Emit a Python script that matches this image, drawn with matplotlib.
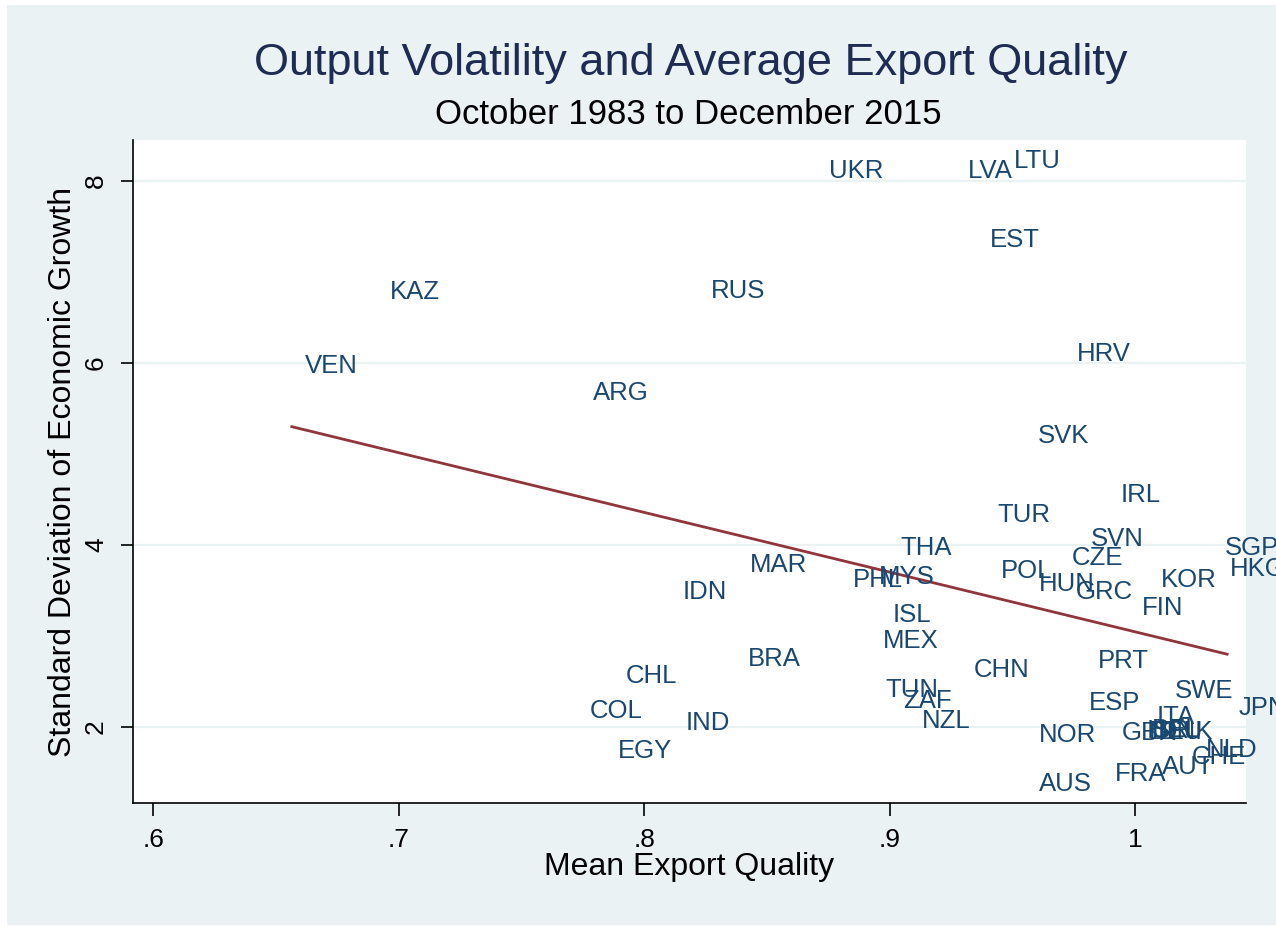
import matplotlib
matplotlib.use("Agg")
import matplotlib.pyplot as plt
from matplotlib.patches import Rectangle

plt.rcParams['font.family'] = ['Liberation Sans', 'DejaVu Sans']

countries = ["VEN", "KAZ", "ARG", "RUS", "UKR", "LVA", "LTU", "EST", "HRV", "SVK",
             "IRL", "TUR", "SVN", "THA", "SGP", "HKG", "CZE", "POL", "MAR", "PHL",
             "MYS", "HUN", "GRC", "KOR", "FIN", "IDN", "ISL", "MEX", "BRA", "PRT",
             "CHL", "CHN", "TUN", "ZAF", "SWE", "JPN", "ESP", "COL", "IND", "NZL",
             "ITA", "NOR", "GBR", "ISR", "DEU", "BEL", "DNK", "EGY", "AUS", "FRA",
             "AUT", "CHE", "NLD"]
export_quality = [0.6564, 0.691, 0.7736, 0.8217, 0.8698, 0.9264, 0.9451, 0.9353, 0.9711, 0.9548,
                  0.9886, 0.9386, 0.9768, 0.899, 1.0314, 1.0334, 0.9687, 0.9398, 0.8375, 0.8795,
                  0.8901, 0.9556, 0.9703, 1.0053, 0.9972, 0.8103, 0.8958, 0.8917, 0.8368, 0.9793,
                  0.7871, 0.9288, 0.8929, 0.9002, 1.0110, 1.0367, 0.9760, 0.7724, 0.8115, 0.9076,
                  1.0033, 0.9556, 0.9894, 0.9992, 1.0004, 1.0016, 1.0045, 0.7838, 0.9556, 0.9862,
                  1.0054, 1.0176, 1.0233]
growth_sd = [5.97, 6.78, 5.67, 6.79, 8.11, 8.11, 8.22, 7.35, 6.10, 5.20,
             4.55, 4.33, 4.07, 3.97, 3.97, 3.74, 3.86, 3.71, 3.78, 3.62,
             3.65, 3.57, 3.48, 3.62, 3.31, 3.48, 3.23, 2.95, 2.75, 2.73,
             2.56, 2.63, 2.41, 2.29, 2.40, 2.21, 2.26, 2.18, 2.04, 2.07,
             2.11, 1.91, 1.93, 1.96, 1.94, 1.97, 1.94, 1.74, 1.37, 1.48,
             1.56, 1.67, 1.75]

fit_x = [0.6564, 1.0375]
fit_y = [5.30, 2.80]

xticks = [0.6, 0.7, 0.8, 0.9, 1.0]
xtick_labels = [".6", ".7", ".8", ".9", "1"]
yticks = [2, 4, 6, 8]
ytick_labels = ["2", "4", "6", "8"]

bg = "#EAF2F3"
navy = "#1a476f"

fig = plt.figure(figsize=(12.76, 9.26), dpi=100)
fig.patch.set_facecolor("white")
fig.patches.append(Rectangle((7 / 1276, 1 - 925 / 926), 1 - 7 / 1276, 920 / 926,
                             transform=fig.transFigure, facecolor=bg, edgecolor="none", zorder=-10))

ax = fig.add_axes([133 / 1276, 1 - 803 / 926, (1246 - 133) / 1276, (803 - 140) / 926])
ax.set_facecolor("white")
ax.set_xlim(0.5917, 1.0452)
ax.set_ylim(1.165, 8.45)

for y in yticks:
    ax.axhline(y, color=bg, lw=1.6, zorder=0)

ax.plot(fit_x, fit_y, color="#90353b", lw=2, zorder=3)

for c, x, y in zip(countries, export_quality, growth_sd):
    ax.annotate(c, (x, y), xytext=(9.5, 0), textcoords="offset points",
                ha="left", va="center", fontsize=18.5, color=navy,
                annotation_clip=False, clip_on=False, zorder=4)

for s in ["top", "right"]:
    ax.spines[s].set_visible(False)
for s in ["left", "bottom"]:
    ax.spines[s].set_color("black")
    ax.spines[s].set_linewidth(1.2)

ax.set_xticks(xticks)
ax.set_xticklabels(xtick_labels, fontsize=19)
ax.set_yticks(yticks)
ax.set_yticklabels(ytick_labels, fontsize=19, rotation=90, va="center")
ax.tick_params(axis="both", length=9, width=1.2, color="black", pad=9)

ax.set_xlabel("Mean Export Quality", fontsize=23, labelpad=0)
ax.set_ylabel("Standard Deviation of Economic Growth", fontsize=23, labelpad=4)

fig.text(691 / 1276, 1 - 63 / 926, "Output Volatility and Average Export Quality",
         ha="center", va="center", fontsize=32.5, color="#1e2c53")
fig.text(688 / 1276, 1 - 115 / 926, "October 1983 to December 2015",
         ha="center", va="center", fontsize=25, color="black")

fig.savefig("out.png", dpi=100)
